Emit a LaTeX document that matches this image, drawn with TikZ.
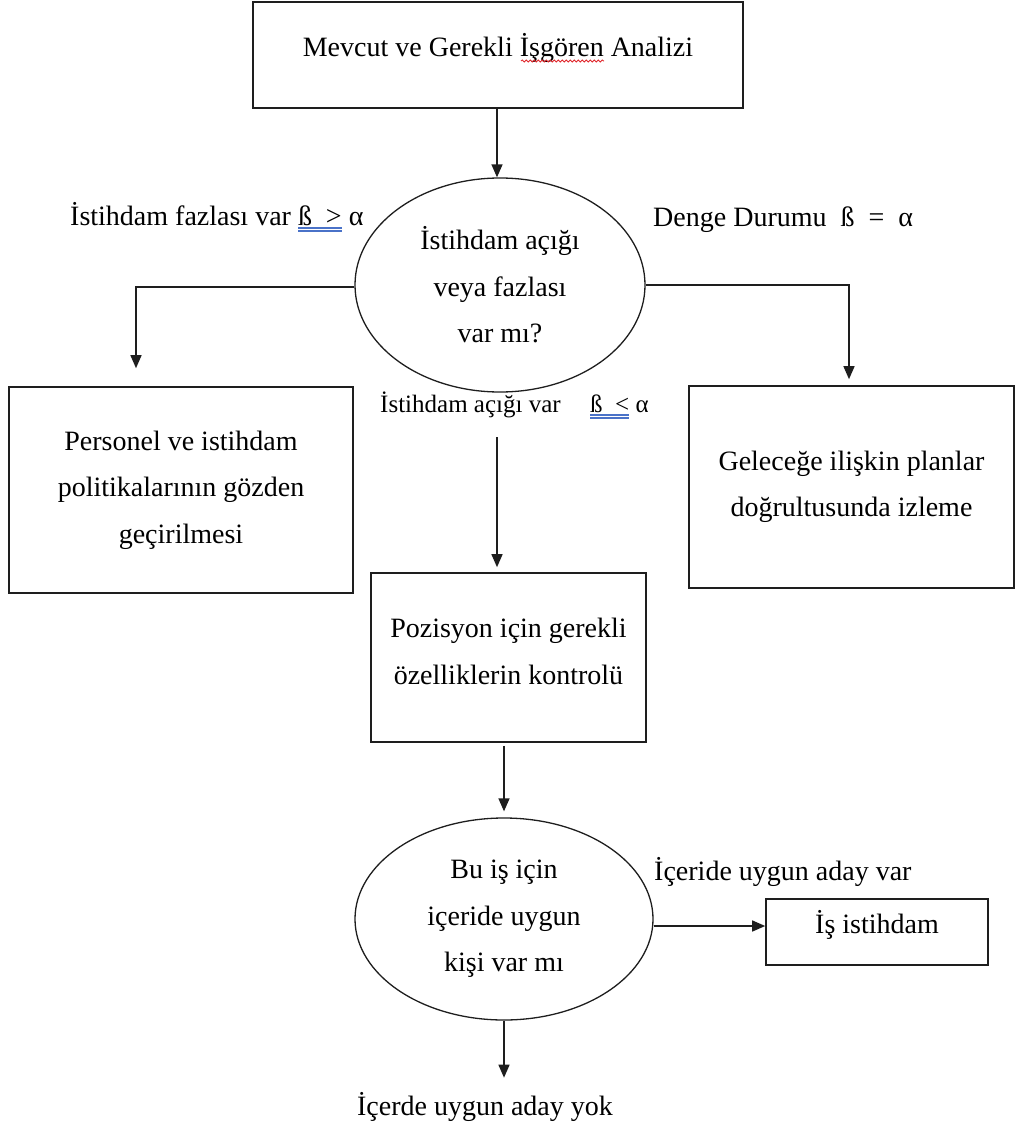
\documentclass[tikz,border=0pt]{standalone}
\usepackage{fontspec}
\setmainfont{Liberation Serif}
\usetikzlibrary{arrows.meta,shapes.geometric,decorations.pathmorphing}

\definecolor{linegray}{HTML}{1E1E1E}
\definecolor{ulblue}{HTML}{4A72C8}
\definecolor{squigred}{HTML}{E0262B}

% double blue underline under a piece of text
\newsavebox{\ulbox}
\newcommand{\dblul}[1]{\leavevmode\sbox{\ulbox}{#1}%
  \rlap{\color{ulblue}\rule[-3.5pt]{\wd\ulbox}{1.1pt}}%
  \rlap{\color{ulblue}\rule[-6.5pt]{\wd\ulbox}{1.1pt}}%
  \usebox{\ulbox}}

\tikzset{
  every node/.style={font=\fontsize{28}{46.5}\selectfont, text=black},
  flowbox/.style={draw=linegray, line width=1.6pt, rectangle, inner sep=0pt},
  decision/.style={draw=linegray, line width=1.3pt, ellipse, align=center, inner sep=0pt},
  note/.style={inner sep=0pt, anchor=base west},
  arr/.style={draw=linegray, line width=1.4pt, -{Triangle[length=13pt,width=11pt]}},
}

\begin{document}
\begin{tikzpicture}[x=1pt,y=-1pt]
\useasboundingbox (0,0) rectangle (1016,1129);

% boxes and decisions
\node[flowbox, minimum width=490pt, text height=55pt, text depth=51pt, anchor=base]
  (analysis) at (498,57) {Mevcut ve Gerekli İşgören Analizi};
\node[decision, minimum width=290pt, minimum height=214pt]
  (gap) at (500,285) {İstihdam açığı\\veya fazlası\\var mı?};
\node[flowbox, align=center, minimum width=344pt, minimum height=206pt]
  (policy) at (181,490) {Personel ve istihdam\\politikalarının gözden\\geçirilmesi};
\node[flowbox, align=center, minimum width=325pt, minimum height=202pt]
  (monitor) at (851.5,487) {Geleceğe ilişkin planlar\\doğrultusunda izleme};
\node[flowbox, align=center, minimum width=275pt, minimum height=169pt, text depth=12pt]
  (profile) at (508.5,657.5) {Pozisyon için gerekli\\özelliklerin kontrolü};
\node[decision, minimum width=298pt, minimum height=202pt]
  (inside) at (504,919) {Bu iş için\\içeride uygun\\kişi var mı};
\node[flowbox, minimum width=222pt, text height=34pt, text depth=32pt, anchor=base]
  (hire) at (877,933) {İş istihdam};

% branch labels
\node[note] (surplus) at (70,225) {İstihdam fazlası var \dblul{ß~~>}~α};
\node[note] (balance) at (653,226) {Denge Durumu~~ß~~=~~α};
\node[note, font=\fontsize{25}{30}\selectfont] (shortage) at (380,412)
  {İstihdam açığı var\hspace{29.5pt}\dblul{ß~~<}~α};
\node[note] (found) at (654,880) {İçeride uygun aday var};
\node[inner sep=0pt, anchor=base] (notfound) at (485,1115) {İçerde uygun aday yok};

% spelling mark under the word "İşgören"
\draw[squigred, line width=0.8pt,
      decorate, decoration={snake, segment length=4pt, amplitude=1.1pt}]
  (521,61) -- (604,61);

% connectors
\coordinate (policyin) at ([xshift=-45pt, yshift=18pt]policy.north);
\coordinate (shortfrom) at (497,437);

\draw[arr] (analysis.south -| 497,0) -- (gap.north -| 497,0);
\draw[arr] ([yshift=-2pt]gap.west) -| (policyin);
\draw[arr] (gap.east) -| ([xshift=-2.5pt, yshift=6pt]monitor.north);
\draw[arr, shorten >=5pt] (shortfrom) -- (shortfrom |- profile.north);
\draw[arr, shorten <=3pt, shorten >=6pt] (inside.north |- profile.south) -- (inside.north);
\draw[arr] ([yshift=-7pt]inside.east) -- ([yshift=-7pt]inside.east -| hire.west);
\draw[arr, shorten >=14pt] (inside.south) -- (inside.south |- notfound.north);
\end{tikzpicture}
\end{document}
